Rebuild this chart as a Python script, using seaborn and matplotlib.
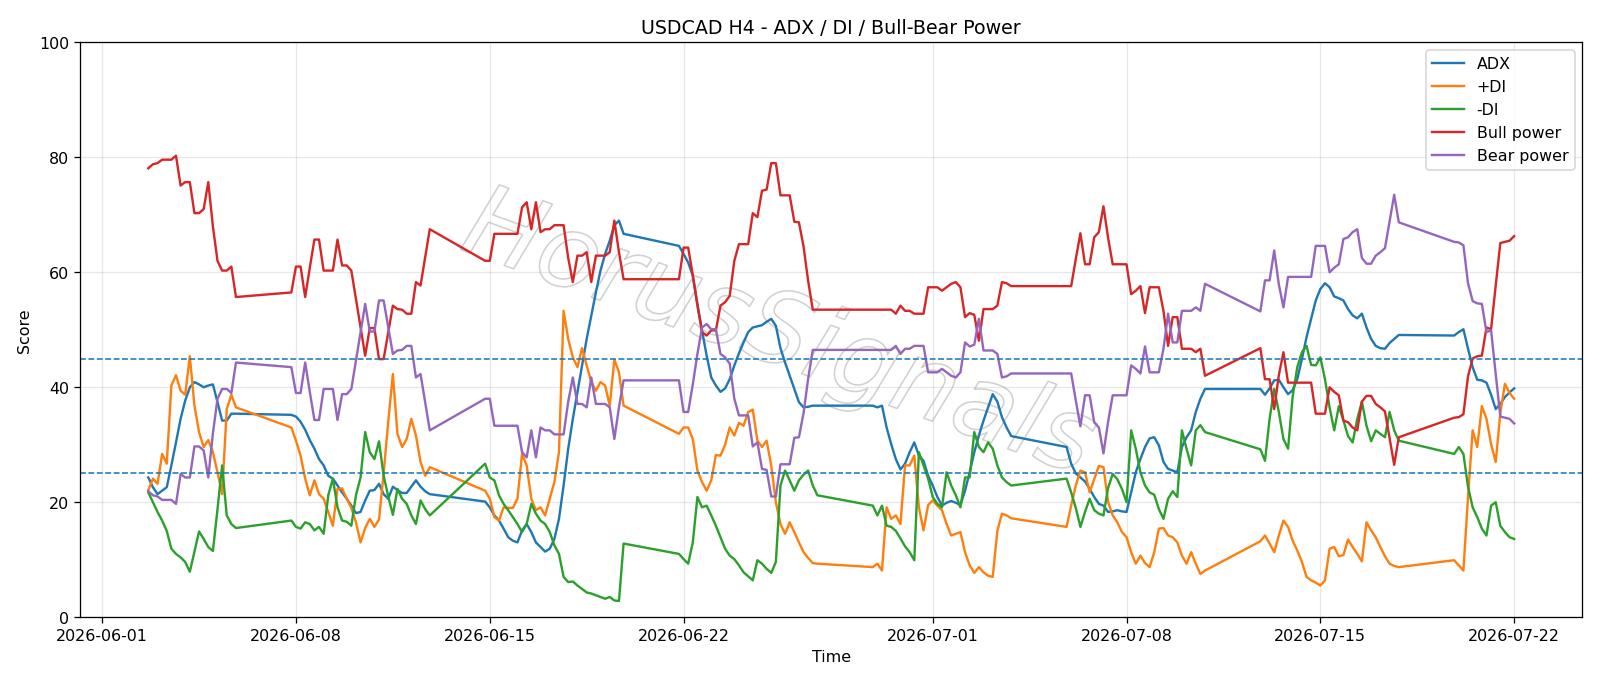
import pandas as pd
import matplotlib
matplotlib.use("Agg")
import matplotlib.pyplot as plt
import matplotlib.patheffects as pe
import seaborn as sns

# H4 trading sessions (first bar, last bar); weekends are skipped
sessions = [
    ("2026-06-02 16:00", "2026-06-05 20:00"),
    ("2026-06-07 20:00", "2026-06-12 20:00"),
    ("2026-06-14 20:00", "2026-06-19 20:00"),
    ("2026-06-21 20:00", "2026-06-26 20:00"),
    ("2026-06-28 20:00", "2026-07-03 20:00"),
    ("2026-07-05 20:00", "2026-07-10 20:00"),
    ("2026-07-12 20:00", "2026-07-17 20:00"),
    ("2026-07-19 20:00", "2026-07-22 00:00"),
]

adx = [
    24.3, 22.6, 21.4, 22.0, 22.6, 26.4, 30.4, 34.5, 37.7, 40.0, 40.9, 40.5, 40.0, 40.3, 40.5, 37.4, 34.2, 34.2, 35.4, 35.4,
    35.2, 34.9, 34.0, 32.6, 30.8, 29.3, 27.5, 26.4, 24.6, 24.1, 22.9, 21.7, 20.6, 19.4, 18.1, 18.3, 20.3, 22.0, 22.1, 23.2,
    21.4, 20.6, 22.7, 22.1, 21.6, 21.6, 22.7, 23.8, 22.7, 21.9, 21.4,
    20.1, 19.1, 17.7, 16.8, 15.4, 13.9, 13.3, 13.0, 15.1, 16.2, 14.8, 13.0, 12.2, 11.4, 11.9, 13.6, 17.1, 22.9, 29.3, 34.5,
    39.1, 43.8, 48.4, 52.5, 56.5, 60.3, 63.2, 65.5, 68.2, 69.0, 66.7,
    64.6, 63.2, 61.7, 59.4, 54.5, 49.9, 45.5, 41.7, 40.3, 39.2, 39.8, 41.4, 43.8, 45.9, 47.8, 49.6, 50.4, 50.6, 50.8, 51.4,
    51.9, 50.7, 46.8, 44.3, 42.0, 39.7, 37.4, 36.5, 36.6, 36.8, 36.8,
    36.8, 36.5, 36.8, 33.0, 30.1, 27.5, 25.7, 26.7, 28.7, 30.4, 28.1, 27.2, 24.6, 22.9, 20.9, 19.4, 19.9, 20.2, 19.9, 19.5,
    22.0, 25.2, 28.7, 31.6, 34.2, 36.5, 38.8, 37.5, 34.8, 33.0, 31.5,
    29.6, 26.7, 25.0, 24.3, 23.6, 22.3, 20.9, 19.7, 19.4, 18.3, 18.4, 18.6, 18.4, 18.3, 21.7, 25.2, 27.5, 29.6, 31.1, 31.3,
    29.9, 27.0, 25.8, 25.5, 25.2, 29.6, 31.3, 32.5, 35.7, 38.0, 39.7,
    39.7, 38.7, 39.8, 41.2, 41.3, 40.0, 38.8, 39.5, 41.4, 44.9, 48.7, 51.9, 55.1, 57.1, 58.1, 57.4, 55.8, 55.5, 55.1, 53.6,
    52.5, 52.0, 52.8, 50.4, 48.4, 47.2, 46.8, 46.7, 47.7, 48.4, 49.1,
    49.0, 49.6, 50.1, 46.7, 43.5, 41.3, 41.2, 40.8, 38.7, 36.2, 37.1, 38.3, 39.1, 39.8,
]

plus_di = [
    22.1, 24.1, 23.2, 28.4, 26.7, 40.3, 42.1, 39.4, 38.7, 45.4, 36.8, 32.2, 29.6, 30.8, 28.7, 25.2, 21.4, 36.2, 38.7, 36.5,
    33.0, 30.7, 28.1, 24.1, 21.2, 23.8, 21.4, 20.6, 18.3, 15.9, 22.3, 22.4, 20.6, 19.0, 16.5, 13.0, 15.5, 17.1, 15.7, 17.0,
    25.0, 34.0, 42.3, 31.9, 29.6, 31.0, 34.5, 31.6, 27.0, 24.6, 26.1,
    22.0, 20.6, 17.4, 16.8, 19.1, 19.0, 19.0, 20.6, 28.4, 26.4, 20.6, 18.6, 19.1, 17.7, 20.6, 23.5, 28.7, 53.3, 48.4, 45.2,
    43.5, 46.8, 43.8, 40.9, 39.4, 40.9, 40.3, 36.8, 44.8, 42.6, 36.8,
    31.9, 33.0, 33.0, 31.0, 25.5, 23.5, 22.0, 23.8, 28.2, 28.1, 30.0, 33.0, 31.6, 33.8, 33.3, 35.7, 36.1, 30.7, 29.6, 30.7,
    26.4, 20.0, 16.2, 14.5, 16.5, 14.8, 13.0, 11.3, 10.3, 9.4, 9.3,
    8.7, 9.3, 8.1, 19.1, 17.1, 17.7, 16.2, 26.4, 26.4, 28.1, 19.1, 15.1, 19.5, 20.3, 19.4, 18.6, 16.2, 14.2, 14.5, 14.8,
    11.3, 9.0, 7.7, 8.7, 7.8, 7.2, 7.0, 15.0, 18.0, 17.7, 17.2,
    15.7, 19.4, 22.9, 25.5, 25.2, 21.7, 24.0, 26.3, 26.1, 20.0, 17.7, 16.5, 14.8, 13.9, 11.3, 9.3, 10.7, 9.4, 8.7, 11.3,
    15.4, 15.5, 14.2, 13.9, 13.0, 10.7, 9.3, 11.3, 9.3, 7.5, 8.1,
    13.2, 14.2, 12.8, 11.3, 14.2, 16.8, 15.7, 13.3, 11.6, 9.6, 7.0, 6.4, 6.0, 5.5, 6.4, 11.9, 12.2, 10.6, 10.8, 13.5,
    12.2, 11.0, 9.7, 16.5, 15.1, 13.9, 12.2, 10.6, 9.3, 8.9, 8.7,
    9.9, 9.0, 8.1, 20.9, 32.5, 29.6, 36.7, 34.5, 30.1, 27.0, 35.5, 40.6, 39.0, 38.0,
]

minus_di = [
    21.7, 20.0, 18.3, 16.8, 15.0, 11.9, 11.0, 10.4, 9.6, 7.9, 11.4, 14.9, 13.6, 12.2, 11.5, 18.8, 26.4, 17.7, 16.2, 15.5,
    16.8, 15.7, 15.4, 16.5, 16.2, 15.1, 15.7, 14.5, 21.2, 24.1, 19.1, 16.8, 16.6, 15.9, 21.2, 24.3, 32.2, 28.7, 27.5, 30.6,
    24.6, 21.0, 17.8, 22.3, 20.6, 19.7, 17.7, 16.2, 20.3, 18.8, 17.7,
    26.7, 24.3, 23.8, 21.2, 19.7, 18.6, 17.4, 16.2, 14.8, 16.2, 19.7, 18.0, 16.8, 16.2, 14.8, 12.5, 11.0, 7.0, 6.1, 6.2,
    5.5, 4.9, 4.3, 4.1, 3.8, 3.5, 3.2, 3.5, 2.9, 2.8, 12.8,
    11.0, 10.1, 9.3, 13.0, 20.9, 19.1, 19.4, 17.7, 15.9, 13.9, 11.9, 10.7, 10.1, 9.0, 7.8, 7.1, 6.4, 9.9, 9.3, 8.4,
    7.7, 9.6, 22.9, 25.5, 23.8, 22.0, 23.8, 24.8, 25.5, 22.9, 21.2,
    19.4, 17.7, 19.4, 15.9, 15.7, 15.0, 13.7, 12.3, 11.3, 9.9, 28.7, 26.4, 24.1, 20.9, 19.7, 19.1, 25.2, 22.9, 21.2, 19.1,
    24.3, 24.3, 32.2, 29.6, 28.7, 30.4, 29.3, 26.4, 24.3, 23.5, 22.9,
    24.1, 21.7, 19.0, 15.7, 18.3, 20.6, 18.6, 18.0, 17.7, 22.5, 24.9, 24.0, 22.3, 20.0, 32.5, 29.3, 25.2, 22.9, 21.7, 21.3,
    18.8, 17.1, 20.6, 21.9, 20.9, 32.5, 29.3, 26.4, 32.5, 33.4, 32.2,
    29.2, 27.2, 34.5, 39.7, 35.7, 31.0, 29.3, 38.4, 43.5, 46.1, 47.2, 43.9, 43.8, 45.2, 41.4, 36.5, 32.5, 36.7, 34.2, 31.5,
    30.4, 34.5, 37.5, 33.3, 30.6, 32.5, 31.9, 31.3, 35.7, 32.5, 30.7,
    28.4, 29.6, 28.4, 22.7, 19.1, 17.4, 15.4, 14.2, 19.4, 20.0, 15.9, 14.8, 13.9, 13.6,
]

bull_power = [
    78.1, 78.8, 79.0, 79.6, 79.6, 79.6, 80.3, 75.1, 75.7, 75.7, 70.3, 70.3, 71.0, 75.7, 68.0, 62.0, 60.3, 60.3, 61.0, 55.7,
    56.5, 61.0, 61.0, 55.7, 60.8, 65.7, 65.7, 60.3, 60.3, 60.3, 65.7, 61.2, 61.2, 60.3, 55.4, 50.4, 45.5, 50.3, 50.3, 44.9,
    44.9, 49.6, 54.2, 53.6, 53.5, 52.8, 52.8, 58.3, 57.7, 62.6, 67.5,
    62.0, 62.0, 66.7, 66.7, 66.7, 66.7, 66.7, 66.7, 71.3, 72.2, 67.5, 72.2, 67.0, 67.5, 67.5, 68.2, 68.2, 68.2, 62.5, 58.3,
    62.9, 62.9, 63.5, 58.3, 62.9, 62.9, 62.9, 63.5, 69.0, 63.5, 58.8,
    58.8, 64.3, 64.3, 59.5, 54.2, 49.6, 49.0, 49.9, 49.9, 54.2, 54.8, 55.9, 62.0, 64.9, 64.9, 64.9, 70.3, 69.6, 74.2, 74.4,
    79.0, 79.0, 73.4, 73.4, 73.4, 68.8, 68.7, 64.5, 58.5, 53.5, 53.5,
    53.5, 53.5, 53.5, 53.5, 53.5, 52.8, 54.2, 53.3, 53.3, 52.8, 52.8, 52.8, 57.4, 57.4, 57.4, 56.8, 57.4, 58.0, 58.3, 57.4,
    52.2, 52.9, 52.6, 48.1, 53.6, 53.6, 53.6, 54.2, 58.3, 58.1, 57.6,
    57.6, 57.6, 62.3, 66.8, 61.4, 61.4, 66.1, 67.0, 71.5, 66.0, 61.4, 61.4, 61.4, 61.4, 56.2, 56.8, 57.6, 52.9, 57.4, 57.4,
    57.4, 53.3, 47.2, 52.2, 52.2, 46.7, 46.7, 46.7, 46.1, 46.7, 42.0,
    46.8, 41.4, 41.4, 36.2, 42.1, 46.1, 40.8, 40.8, 40.8, 40.8, 40.8, 40.8, 35.4, 35.4, 35.4, 40.0, 39.2, 38.6, 34.2, 33.9,
    33.0, 32.5, 37.5, 38.5, 38.5, 37.1, 36.5, 35.8, 31.1, 26.5, 31.3,
    34.7, 34.8, 35.3, 41.9, 45.0, 45.4, 45.5, 50.4, 50.1, 57.7, 65.1, 65.3, 65.5, 66.3,
]

bear_power = [
    21.9, 21.2, 21.0, 20.4, 20.4, 20.4, 19.7, 24.9, 24.3, 24.3, 29.7, 29.7, 29.0, 24.3, 32.0, 38.0, 39.7, 39.7, 39.0, 44.3,
    43.5, 39.0, 39.0, 44.3, 39.2, 34.3, 34.3, 39.7, 39.7, 39.7, 34.3, 38.8, 38.8, 39.7, 44.6, 49.6, 54.5, 49.7, 49.7, 55.1,
    55.1, 50.4, 45.8, 46.4, 46.5, 47.2, 47.2, 41.7, 42.3, 37.4, 32.5,
    38.0, 38.0, 33.3, 33.3, 33.3, 33.3, 33.3, 33.3, 28.7, 27.8, 32.5, 27.8, 33.0, 32.5, 32.5, 31.8, 31.8, 31.8, 37.5, 41.7,
    37.1, 37.1, 36.5, 41.7, 37.1, 37.1, 37.1, 36.5, 31.0, 36.5, 41.2,
    41.2, 35.7, 35.7, 40.5, 45.8, 50.4, 51.0, 50.1, 50.1, 45.8, 45.2, 44.1, 38.0, 35.1, 35.1, 35.1, 29.7, 30.4, 25.8, 25.6,
    21.0, 21.0, 26.6, 26.6, 26.6, 31.2, 31.3, 35.5, 41.5, 46.5, 46.5,
    46.5, 46.5, 46.5, 46.5, 46.5, 47.2, 45.8, 46.7, 46.7, 47.2, 47.2, 47.2, 42.6, 42.6, 42.6, 43.2, 42.6, 42.0, 41.7, 42.6,
    47.8, 47.1, 47.4, 51.9, 46.4, 46.4, 46.4, 45.8, 41.7, 41.9, 42.4,
    42.4, 42.4, 37.7, 33.2, 38.6, 38.6, 33.9, 33.0, 28.5, 34.0, 38.6, 38.6, 38.6, 38.6, 43.8, 43.2, 42.4, 47.1, 42.6, 42.6,
    42.6, 46.7, 52.8, 47.8, 47.8, 53.3, 53.3, 53.3, 53.9, 53.3, 58.0,
    53.2, 58.6, 58.6, 63.8, 57.9, 53.9, 59.2, 59.2, 59.2, 59.2, 59.2, 59.2, 64.6, 64.6, 64.6, 60.0, 60.8, 61.4, 65.8, 66.1,
    67.0, 67.5, 62.5, 61.5, 61.5, 62.9, 63.5, 64.2, 68.9, 73.5, 68.7,
    65.3, 65.2, 64.7, 58.1, 55.0, 54.6, 54.5, 49.6, 49.9, 42.3, 34.9, 34.7, 34.5, 33.7,
]

series_names = ["ADX", "+DI", "-DI", "Bull power", "Bear power"]


def build_frame():
    times = pd.DatetimeIndex([])
    for start, end in sessions:
        times = times.append(pd.date_range(start, end, freq="4h"))
    df = pd.DataFrame({
        "Time": times,
        "ADX": adx,
        "+DI": plus_di,
        "-DI": minus_di,
        "Bull power": bull_power,
        "Bear power": bear_power,
    })
    return df.melt(id_vars="Time", var_name="Series", value_name="Score")


def plot_chart():
    long_df = build_frame()

    fig, ax = plt.subplots(figsize=(14, 6), dpi=114.29)
    sns.lineplot(data=long_df, x="Time", y="Score", hue="Series",
                 hue_order=series_names, palette=sns.color_palette("tab10", 5),
                 linewidth=1.5, ax=ax)

    # reference levels
    ax.axhline(45, color="C0", linestyle="--", linewidth=1)
    ax.axhline(25, color="C0", linestyle="--", linewidth=1)

    ax.set_ylim(0, 100)
    ax.set_title("USDCAD H4 - ADX / DI / Bull-Bear Power")
    ax.set_xlabel("Time")
    ax.set_ylabel("Score")
    ax.grid(True, alpha=0.3)
    ax.legend(loc="upper right")

    # watermark
    ax.text(0.465, 0.49, "HorusSignals", transform=ax.transAxes,
            fontsize=64, style="italic", fontweight="light",
            rotation=-20, ha="center", va="center", color="none",
            path_effects=[pe.Stroke(linewidth=1.0, foreground=(0.6, 0.6, 0.6, 0.45))],
            zorder=0)

    plt.subplots_adjust(left=0.05, right=0.989, top=0.937, bottom=0.099)
    plt.savefig("out.png", dpi=114.29)
    plt.close()


if __name__ == "__main__":
    plot_chart()
